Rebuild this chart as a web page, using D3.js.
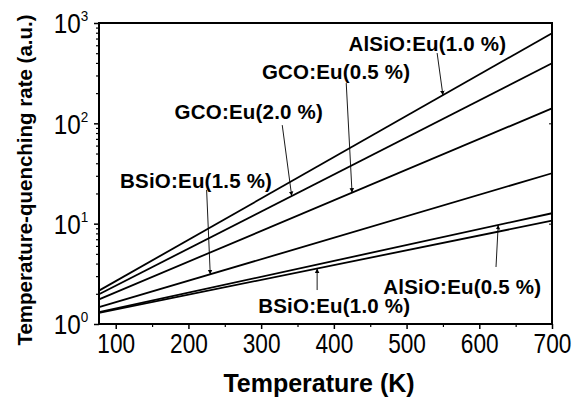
<!DOCTYPE html>
<html>
<head>
<meta charset="utf-8">
<script src="https://cdn.jsdelivr.net/npm/d3@7"></script>
<style>
  html, body { margin: 0; padding: 0; background: #fff; }
  svg { display: block; }
  text { font-family: "Liberation Sans", Arial, sans-serif; fill: #000; }
</style>
</head>
<body>
<svg id="chart" width="582" height="399"></svg>
<script>
// ---- data ----
const temperatures = [77, 700];                       // K, line end points
const seriesNames = ["AlSiO:Eu(1.0 %)", "GCO:Eu(2.0 %)", "GCO:Eu(0.5 %)",
                     "BSiO:Eu(1.5 %)", "AlSiO:Eu(0.5 %)", "BSiO:Eu(1.0 %)"];
const rateAt77  = [2.15, 1.98, 1.76, 1.47, 1.31, 1.29];
const rateAt700 = [791, 397, 141, 31.8, 12.7, 10.7];
const xTicks = [100, 200, 300, 400, 500, 600, 700];
const yTicks = [1, 10, 100, 1000];

// annotation layout in data coordinates: label anchor, arrow tail, arrow tip temperature
const annoSeries   = [0, 2, 1, 3, 4, 5];
const annoLabelT   = [420, 301, 181, 106, 468, 296];
const annoLabelR   = [525, 277, 110, 22.7, 1.99, 1.287];
const annoTailT    = [542, 417, 329, 225, 623, 377];
const annoTailR    = [502, 252, 96, 21.7, 3.70, 2.18];
const annoTipT     = [550, 425, 342, 230, 626, 377];

// ---- drawing ----
const svg = d3.select("#chart");
const L = 99, R = 552, T = 23, B = 324;
const x = d3.scaleLinear().domain([77, 700]).range([L, R]);
const y = d3.scaleLog().domain([1, 1000]).range([B, T]);

// frame
svg.append("rect").attr("x", L).attr("y", T).attr("width", R - L).attr("height", B - T)
  .attr("fill", "none").attr("stroke", "#000").attr("stroke-width", 2);

// x axis
const xAxis = svg.append("g").attr("transform", `translate(0,${B})`)
  .call(d3.axisBottom(x).tickValues(xTicks).tickSize(5).tickPadding(5).tickFormat(d3.format("d")));
xAxis.select(".domain").remove();
xAxis.selectAll("line").attr("stroke-width", 1.5);
xAxis.selectAll("text").attr("font-size", 27).attr("transform", "scale(0.84,1)")
  .style("font-family", "'Liberation Sans', Arial, sans-serif");
const xMinor = svg.append("g").attr("transform", `translate(0,${B})`)
  .call(d3.axisBottom(x).tickValues([150, 250, 350, 450, 550, 650]).tickSize(3).tickFormat(""));
xMinor.select(".domain").remove();
xMinor.selectAll("line").attr("stroke-width", 1.2);

// y axis
const yAxis = svg.append("g").attr("transform", `translate(${L},0)`)
  .call(d3.axisLeft(y).tickValues(yTicks).tickSize(5).tickPadding(17).tickFormat(""));
yAxis.select(".domain").remove();
yAxis.selectAll("line").attr("stroke-width", 1.5);
yAxis.selectAll(".tick").each(function(d) {
  const g = d3.select(this);
  const t = g.append("text").attr("x", -12).attr("dy", "0.36em")
    .attr("text-anchor", "end").attr("font-size", 27).attr("transform", "scale(0.9,1)");
  t.append("tspan").text("10");
  t.append("tspan").attr("font-size", 15).attr("dy", "-0.8em").text(Math.round(Math.log10(d)));
});
const yMinorVals = [];
[1, 10, 100].forEach(dec => { for (let k = 2; k <= 9; k++) yMinorVals.push(dec * k); });
const yMinor = svg.append("g").attr("transform", `translate(${L},0)`)
  .call(d3.axisLeft(y).tickValues(yMinorVals).tickSize(3).tickFormat(""));
yMinor.select(".domain").remove();
yMinor.selectAll("line").attr("stroke-width", 1.2);
// right-side mirror ticks
const yRight = svg.append("g").attr("transform", `translate(${R},0)`)
  .call(d3.axisLeft(y).tickValues([10, 100]).tickSize(3).tickFormat(""));
yRight.select(".domain").remove();

// axis titles
svg.append("text").attr("x", 319).attr("y", 392).attr("text-anchor", "middle")
  .attr("font-size", 25).attr("font-weight", "bold").text("Temperature (K)");
svg.append("text").attr("transform", "translate(32,180) rotate(-90)").attr("text-anchor", "middle")
  .attr("font-size", 20.5).attr("font-weight", "bold").text("Temperature-quenching rate (a.u.)");

// lines
const seriesData = seriesNames.map((name, i) => ({
  name, pts: [[temperatures[0], rateAt77[i]], [temperatures[1], rateAt700[i]]]
}));
const line = d3.line().x(d => x(d[0])).y(d => y(d[1]));
svg.append("g").selectAll("path").data(seriesData).join("path")
  .attr("d", d => line(d.pts)).attr("fill", "none").attr("stroke", "#000").attr("stroke-width", 1.8);

// arrow marker
svg.append("defs").append("marker").attr("id", "arr").attr("viewBox", "0 0 10 10")
  .attr("refX", 10).attr("refY", 5).attr("markerWidth", 4.5).attr("markerHeight", 7.5)
  .attr("markerUnits", "userSpaceOnUse").attr("orient", "auto")
  .append("path").attr("d", "M0,0 L10,5 L0,10 Z").attr("fill", "#000");

// rate on a series at temperature t (straight line in log space)
function rateOn(i, t) {
  const f = (t - temperatures[0]) / (temperatures[1] - temperatures[0]);
  return Math.pow(10, Math.log10(rateAt77[i]) + f * (Math.log10(rateAt700[i]) - Math.log10(rateAt77[i])));
}

const ann = svg.append("g");
annoSeries.forEach((si, k) => {
  ann.append("text").attr("x", x(annoLabelT[k])).attr("y", y(annoLabelR[k]))
    .attr("font-size", 20.5).attr("letter-spacing", 0.2).attr("font-weight", "bold").text(seriesNames[si]);
  ann.append("line")
    .attr("x1", x(annoTailT[k])).attr("y1", y(annoTailR[k]))
    .attr("x2", x(annoTipT[k])).attr("y2", y(rateOn(si, annoTipT[k])))
    .attr("stroke", "#000").attr("stroke-width", 0.9).attr("marker-end", "url(#arr)");
});
</script>
</body>
</html>
